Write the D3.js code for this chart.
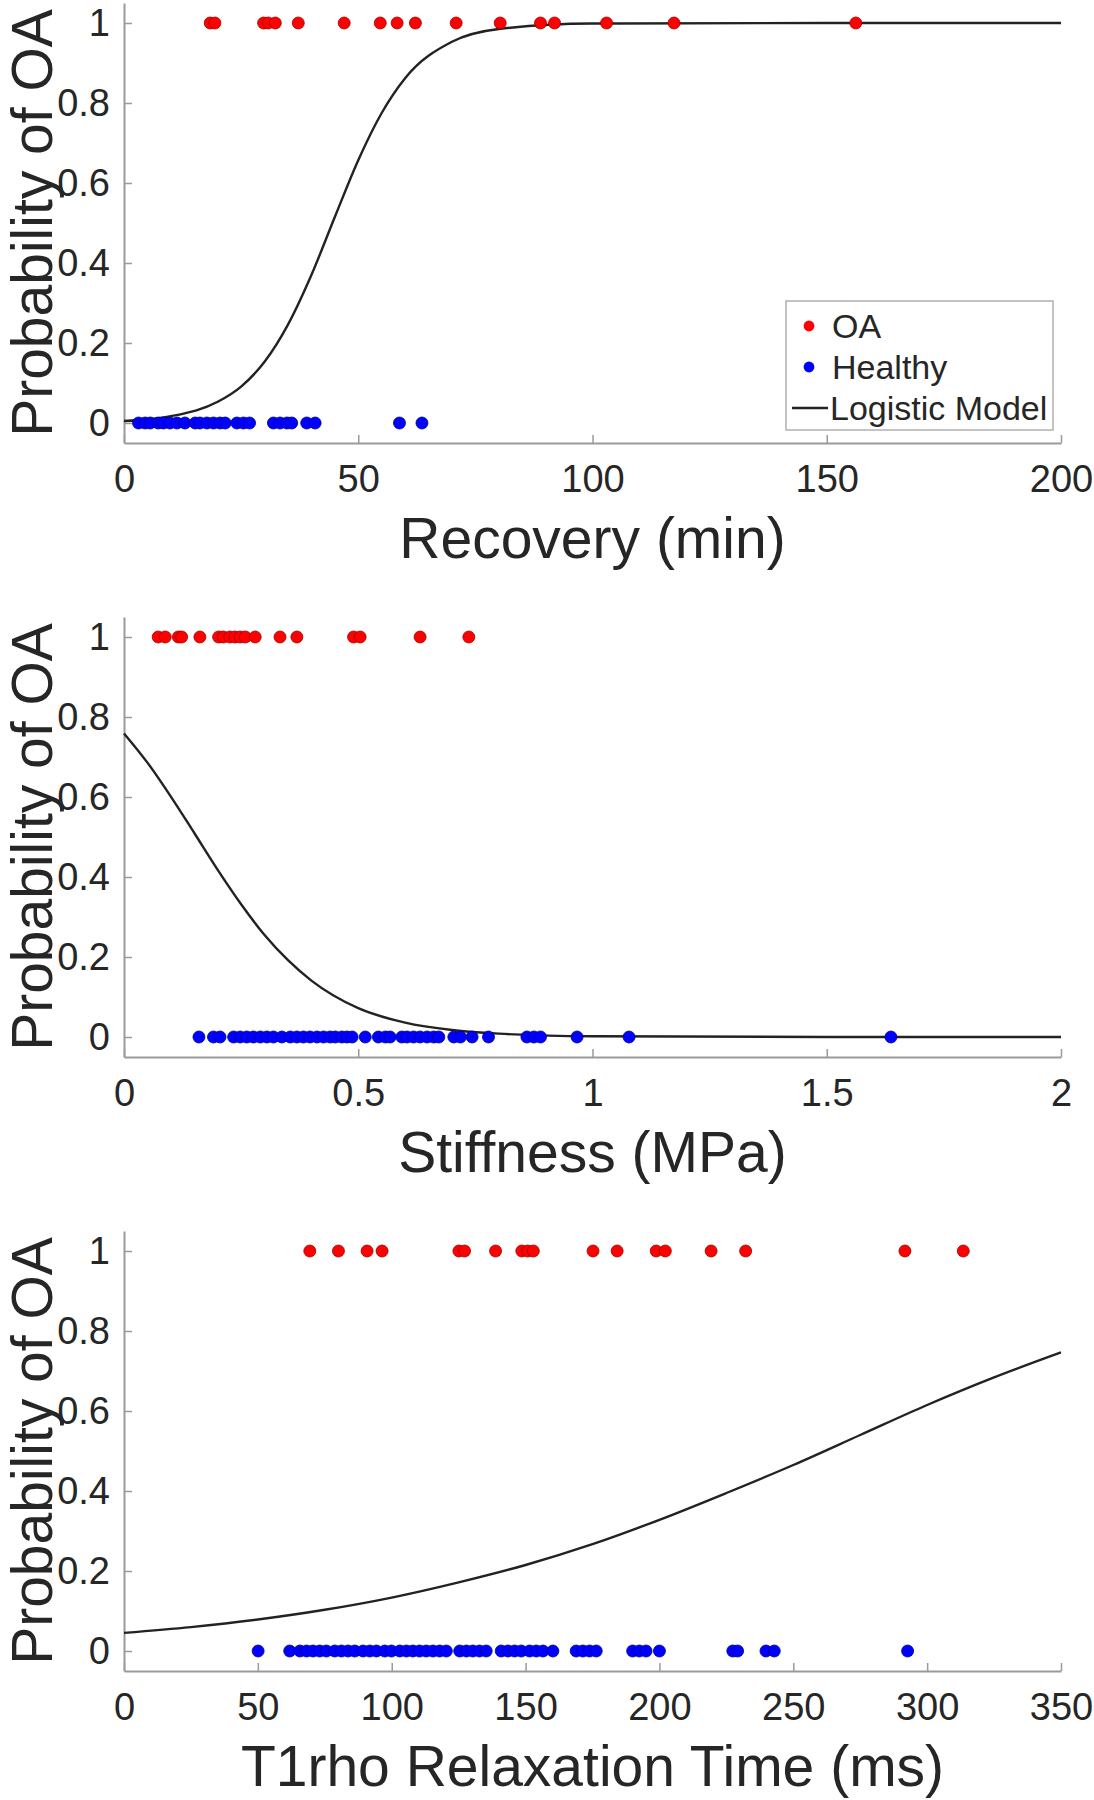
<!DOCTYPE html>
<html><head><meta charset="utf-8">
<script src="https://cdn.jsdelivr.net/npm/d3@7/dist/d3.min.js"></script>
<style>
html,body{margin:0;padding:0;background:#fff;}
svg{display:block;font-family:"Liberation Sans",Arial,Helvetica,sans-serif;}
</style></head>
<body><svg id="c" width="1094" height="1800"></svg>
<script>
// ---- Panel 1: Recovery (min)
const recoveryOA = [18.4,19.4,29.8,30.8,32.3,37.2,47.0,54.7,58.3,62.2,70.9,80.3,88.9,91.9,103.0,117.4,156.2];
const recoveryHealthy = [3.1,4.5,5.6,7.3,8.4,9.8,11.3,13.0,15.2,16.2,17.7,19.1,20.5,21.6,24.1,25.5,26.8,31.9,33.3,34.8,35.8,39.0,40.8,58.8,63.6];
const recoveryModelX = [0,10,20,25,30,35,40,45,50,55,60,70,80,100,150,200];
const recoveryModelP = [0.005,0.017,0.053,0.091,0.153,0.246,0.370,0.515,0.657,0.775,0.862,0.953,0.985,0.9986,1.0,1.0];
const recoveryTicks = [0,50,100,150,200];

// ---- Panel 2: Stiffness (MPa)
const stiffnessOA = [0.073,0.088,0.116,0.123,0.162,0.202,0.212,0.226,0.237,0.248,0.259,0.280,0.333,0.369,0.490,0.504,0.632,0.736];
const stiffnessHealthy = [0.160,0.191,0.205,0.234,0.248,0.262,0.276,0.291,0.305,0.319,0.337,0.355,0.369,0.383,0.397,0.412,0.426,0.440,0.451,0.465,0.476,0.487,0.515,0.543,0.558,0.568,0.593,0.604,0.618,0.632,0.647,0.661,0.672,0.704,0.718,0.743,0.778,0.860,0.875,0.889,0.967,1.078,1.637];
const stiffnessModelX = [0,0.05,0.1,0.15,0.2,0.25,0.3,0.35,0.4,0.5,0.6,0.7,0.8,1.0,1.5,2.0];
const stiffnessModelP = [0.759,0.686,0.601,0.510,0.418,0.332,0.255,0.192,0.141,0.072,0.036,0.0175,0.0084,0.0019,0.0001,0.0];
const stiffnessTicks = [0,0.5,1,1.5,2];

// ---- Panel 3: T1rho Relaxation Time (ms)
const t1rhoOA = [69.4,80.1,90.8,96.4,125.1,127.2,138.8,148.6,150.8,152.9,175.2,184.2,198.8,202.2,219.3,232.2,291.7,313.5];
const t1rhoHealthy = [50.1,61.9,65.7,68.2,70.6,73.1,75.6,78.7,81.2,83.7,86.2,89.3,91.8,94.3,97.4,99.9,103.0,105.5,107.9,110.4,112.9,115.4,117.9,120.4,125.4,127.9,130.3,132.8,135.3,140.9,143.4,145.9,148.4,151.5,154.0,156.5,160.2,168.9,171.4,173.9,176.4,190.0,192.5,195.0,200.0,227.4,229.2,239.8,242.9,292.7];
const t1rhoModelX = [0,25,50,75,100,125,150,175,200,225,250,275,300,325,350];
const t1rhoModelP = [0.0452,0.0598,0.0787,0.1030,0.1335,0.1715,0.2150,0.2670,0.328,0.395,0.465,0.540,0.615,0.684,0.7465];
const t1rhoTicks = [0,50,100,150,200,250,300,350];

const probTicks = [0,0.2,0.4,0.6,0.8,1];
const probTickLabels = ["0","0.2","0.4","0.6","0.8","1"];
const yLabel = "Probability of OA";
const legendLabels = ["OA","Healthy","Logistic Model"];

const panels = [
  {oa: recoveryOA, hl: recoveryHealthy, mx: recoveryModelX, mp: recoveryModelP, ticks: recoveryTicks, dom:[0,200], label:"Recovery (min)", top:3, legend:true},
  {oa: stiffnessOA, hl: stiffnessHealthy, mx: stiffnessModelX, mp: stiffnessModelP, ticks: stiffnessTicks, dom:[0,2], label:"Stiffness (MPa)", top:617, legend:false},
  {oa: t1rhoOA, hl: t1rhoHealthy, mx: t1rhoModelX, mp: t1rhoModelP, ticks: t1rhoTicks, dom:[0,350], label:"T1rho Relaxation Time (ms)", top:1231, legend:false}
];

const svg = d3.select("#c");
const left = 124, right = 1061, ph = 440;
const axisCol = "#9a9a9a", textCol = "#262626";
const RED = "#ff0000", BLUE = "#0000ff";

panels.forEach(p => {
  const g = svg.append("g");
  const x = d3.scaleLinear().domain(p.dom).range([left, right]);
  const y = d3.scaleLinear().domain([-0.05, 1.05]).range([p.top + ph, p.top]);
  const bottom = p.top + ph;

  // axes
  const xa = g.append("g").attr("transform", `translate(0,${bottom})`)
    .call(d3.axisBottom(x).tickValues(p.ticks).tickSizeInner(-8).tickSizeOuter(0).tickPadding(22).tickFormat(d3.format("~g")));
  const ya = g.append("g").attr("transform", `translate(${left},0)`)
    .call(d3.axisLeft(y).tickValues(probTicks).tickSizeInner(-8).tickSizeOuter(0).tickPadding(14).tickFormat((d,i)=>probTickLabels[i]));
  [xa, ya].forEach(a => {
    a.select(".domain").attr("stroke", axisCol).attr("stroke-width", 2);
    a.selectAll(".tick line").attr("stroke", axisCol).attr("stroke-width", 1.5);
    a.selectAll(".tick text").attr("fill", textCol).attr("font-size", 38).attr("font-family", "Liberation Sans, Arial, sans-serif");
  });
  xa.selectAll(".tick text").attr("dy", "0.71em");

  // labels
  g.append("text").attr("x", (left + right) / 2).attr("y", bottom + 115)
    .attr("text-anchor", "middle").attr("font-size", 57).attr("fill", textCol).text(p.label);
  g.append("text").attr("transform", `translate(52,${p.top + ph / 2}) rotate(-90)`)
    .attr("text-anchor", "middle").attr("font-size", 57).attr("fill", textCol).text(yLabel);

  // model line
  const pts = p.mx.map((v, i) => [v, p.mp[i]]);
  g.append("path").datum(pts)
    .attr("d", d3.line().x(d => x(d[0])).y(d => y(d[1])).curve(d3.curveMonotoneX))
    .attr("fill", "none").attr("stroke", "#222").attr("stroke-width", 2.4);

  // dots
  g.append("g").selectAll("circle").data(p.hl).join("circle")
    .attr("cx", d => x(d)).attr("cy", y(0)).attr("r", 6)
    .attr("fill", BLUE).attr("stroke", "#00008a").attr("stroke-width", 0.8);
  g.append("g").selectAll("circle").data(p.oa).join("circle")
    .attr("cx", d => x(d)).attr("cy", y(1)).attr("r", 6)
    .attr("fill", RED).attr("stroke", "#a00000").attr("stroke-width", 0.8);

  if (p.legend) {
    const lg = g.append("g");
    lg.append("rect").attr("x", 786).attr("y", 301).attr("width", 267).attr("height", 129)
      .attr("fill", "#fff").attr("stroke", "#b0b0b0").attr("stroke-width", 1.5);
    const rows = [326, 367, 408];
    lg.append("circle").attr("cx", 809).attr("cy", rows[0]).attr("r", 5.4).attr("fill", RED);
    lg.append("circle").attr("cx", 809).attr("cy", rows[1]).attr("r", 5.4).attr("fill", BLUE);
    lg.append("line").attr("x1", 792).attr("x2", 828).attr("y1", rows[2]).attr("y2", rows[2])
      .attr("stroke", "#222").attr("stroke-width", 2.4);
    legendLabels.forEach((t, i) => {
      lg.append("text").attr("x", i === 2 ? 830 : 832).attr("y", rows[i]).attr("dy", "0.36em")
        .attr("font-size", 34).attr("fill", textCol).text(t);
    });
  }
});
</script></body></html>
